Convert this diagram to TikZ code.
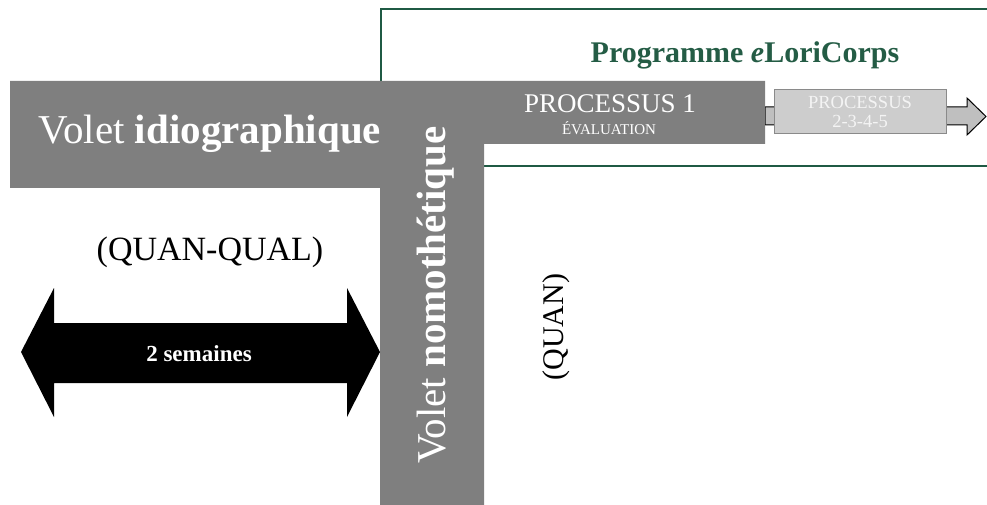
\documentclass[tikz,border=0pt]{standalone}
\usepackage{fontspec}
\setmainfont{Liberation Serif}
\begin{document}
\begin{tikzpicture}[x=1pt,y=-1pt,
  barfill/.style={fill=barGray,draw=none},
  whitetxt/.style={text=white,inner sep=0pt,anchor=center},
  blacktxt/.style={text=black,inner sep=0pt,anchor=center}]
\definecolor{barGray}{HTML}{7F7F7F}
\definecolor{frameGreen}{HTML}{1F5A44}
\definecolor{titleGreen}{HTML}{245C45}
\definecolor{boxFill}{HTML}{CDCDCD}
\definecolor{boxLine}{HTML}{8A8A8A}
\definecolor{shaftFill}{HTML}{BFBFBF}
\definecolor{boxText}{HTML}{F4F4F4}
\useasboundingbox (0,0) rectangle (987,505);
% program frame
\draw[frameGreen,line width=2pt] (1000,9) -- (381,9) -- (381,166) -- (1000,166);
\node[text=titleGreen,inner sep=0pt,font=\fontsize{30}{32}\selectfont\bfseries] (title) at (745,55) {Programme \textit{e}LoriCorps};
% arrow to processes 2-5
\draw[black,line width=1pt,fill=shaftFill] (765,107) -- (967,107) -- (967,98) -- (986,116.5) -- (967,135) -- (967,125) -- (765,125) -- cycle;
\node[draw=boxLine,line width=1pt,fill=boxFill,minimum width=172pt,minimum height=44pt,inner sep=0pt] (p2) at (860,112) {};
\node[text=boxText,inner sep=0pt,font=\fontsize{18.5}{20}\selectfont,align=center] (p2t) at (p2.center) {PROCESSUS\\[-1pt]2-3-4-5};
% gray L-shape
\fill[barGray] (10,81) -- (765,81) -- (765,144) -- (484,144) -- (484,505) -- (380,505) -- (380,188) -- (10,188) -- cycle;
\node[whitetxt,font=\fontsize{41}{44}\selectfont] (idio) at (210,134) {Volet \textbf{idiographique}};
\node[whitetxt,rotate=90,font=\fontsize{41}{44}\selectfont] (nomo) at (436,295) {Volet \textbf{nomothétique}};
\node[whitetxt,font=\fontsize{27}{28}\selectfont] (p1) at (610,104) {PROCESSUS 1};
\node[whitetxt,font=\fontsize{15}{16}\selectfont] (p1e) at (609,128) {ÉVALUATION};
% left side
\node[blacktxt,font=\fontsize{34}{36}\selectfont] (qq) at (210,252) {(QUAN-QUAL)};
\fill[black] (21,352) -- (54,288) -- (54,323) -- (347,323) -- (347,288) -- (380,352) -- (347,417) -- (347,383) -- (54,383) -- (54,417) -- cycle;
\node[whitetxt,font=\fontsize{23}{24}\selectfont\bfseries] (sem) at (199,354) {2 semaines};
\node[blacktxt,rotate=90,font=\fontsize{30}{32}\selectfont] (quan) at (556,327) {(QUAN)};
\end{tikzpicture}
\end{document}
